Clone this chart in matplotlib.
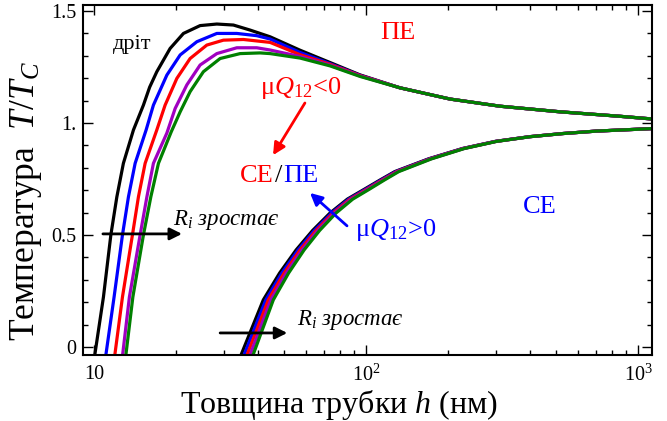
import matplotlib
matplotlib.use("Agg")
import matplotlib.pyplot as plt
from matplotlib.ticker import FixedLocator, NullFormatter, MultipleLocator, LogLocator

plt.rcParams['font.family'] = ['Liberation Serif', 'DejaVu Serif']
plt.rcParams['mathtext.fontset'] = 'custom'
plt.rcParams['mathtext.rm'] = 'Liberation Serif'
plt.rcParams['mathtext.it'] = 'Liberation Serif:italic'

colors = ['black', 'blue', 'red', '#a000c0', 'green']

# Upper branch (ПЕ -> transition), per series (h in nm, T/Tc)
pe_h = [
    [10.08, 10.82, 11.52, 12.12, 12.81, 13.95, 15.18, 16.0, 17.00, 19.03, 21.30, 24.53, 28.26, 32.52, 37.46, 44.37, 57.2, 73.76, 95.0, 133.4, 203.6, 311, 516.8, 858.6, 1126],
    [11.07, 11.84, 12.71, 13.37, 14.15, 15.53, 16.52, 18.51, 20.72, 23.86, 28.26, 33.47, 39.64, 44.37, 57.2, 73.76, 95.0, 133.4, 203.6, 311, 516.8, 858.6, 1126],
    [11.94, 12.71, 13.83, 14.55, 15.40, 17.00, 18.24, 20.14, 22.54, 25.96, 29.88, 35.39, 44.37, 57.2, 73.76, 95.0, 133.4, 203.6, 311, 516.8, 858.6, 1126],
    [12.75, 13.48, 14.76, 15.63, 16.52, 18.51, 19.86, 21.92, 24.53, 28.26, 33.47, 39.64, 44.37, 57.2, 73.76, 95.0, 133.4, 203.6, 311, 516.8, 858.6, 1126],
    [13.11, 13.88, 15.18, 16.16, 17.24, 19.20, 20.72, 22.54, 25.22, 29.06, 34.42, 40.77, 44.37, 57.2, 73.76, 95.0, 133.4, 203.6, 311, 516.8, 858.6, 1126],
]
pe_T = [
    [-0.027, 0.223, 0.5, 0.67, 0.82, 0.969, 1.08, 1.16, 1.229, 1.333, 1.40, 1.435, 1.442, 1.4375, 1.415, 1.385, 1.325, 1.27, 1.215, 1.157, 1.107, 1.075, 1.05, 1.03, 1.018],
    [-0.027, 0.223, 0.5, 0.67, 0.82, 0.969, 1.08, 1.214, 1.304, 1.363, 1.40, 1.40, 1.39, 1.375, 1.315, 1.265, 1.213, 1.157, 1.107, 1.075, 1.05, 1.03, 1.018],
    [-0.027, 0.223, 0.5, 0.67, 0.82, 0.969, 1.08, 1.199, 1.288, 1.348, 1.37, 1.373, 1.36, 1.305, 1.262, 1.212, 1.157, 1.107, 1.075, 1.05, 1.03, 1.018],
    [-0.027, 0.223, 0.5, 0.67, 0.82, 0.955, 1.065, 1.17, 1.259, 1.31, 1.336, 1.336, 1.326, 1.297, 1.258, 1.21, 1.157, 1.107, 1.075, 1.05, 1.03, 1.018],
    [-0.027, 0.223, 0.5, 0.67, 0.82, 0.96, 1.05, 1.14, 1.229, 1.288, 1.31, 1.313, 1.31, 1.29, 1.255, 1.208, 1.157, 1.107, 1.075, 1.05, 1.03, 1.018],
]

# Lower branch (СЕ), shared T/Tc, per-series h
ce_T = [-0.036, 0.21, 0.33, 0.433, 0.52, 0.598, 0.66, 0.705, 0.745, 0.783, 0.84, 0.886, 0.918, 0.939, 0.953, 0.964, 0.975]
ce_h = [
    [34.69, 41.89, 48.09, 55.30, 63.59, 73.71, 85.33, 98.79, 112.39, 127.52, 169.73, 225.98, 298.84, 399.12, 528.9, 705, 1126],
    [35.59, 42.78, 49.02, 56.24, 64.53, 74.64, 86.31, 99.84, 113.43, 128.61, 170.81, 226.95, 299.7, 399.96, 529.5, 705, 1126],
    [36.5, 43.7, 49.96, 57.2, 65.5, 75.6, 87.3, 100.9, 114.5, 129.7, 171.9, 227.9, 300.6, 400.8, 530.2, 705, 1126],
    [37.44, 44.64, 50.92, 58.18, 66.48, 76.57, 88.30, 101.97, 115.58, 130.80, 173.0, 228.86, 301.5, 401.6, 530.9, 705, 1126],
    [38.40, 45.59, 51.90, 59.17, 67.47, 77.54, 89.32, 103.06, 116.65, 131.92, 174.10, 229.84, 302.37, 402.48, 531.5, 705, 1126],
]

yticks = [0, 0.5, 1.0, 1.5]
ytick_labels = ['0', '0.5', '1.', '1.5']
xticks = [10, 100, 1000]
xtick_labels = ['10', '$10^2$', '$10^3$']

fig = plt.figure(figsize=(6.67, 4.21), dpi=100)
ax = fig.add_axes([83/667, 1-355/421, (652-83)/667, (355-5)/421])

for c, h, T in zip(colors, pe_h, pe_T):
    ax.plot(h, T, color=c, lw=2.3, solid_joinstyle='round')
for c, h in zip(colors, ce_h):
    ax.plot(h, ce_T, color=c, lw=2.3, solid_joinstyle='round')

ax.set_xscale('log')
ax.set_xlim(9.1, 1126)
ax.set_ylim(-0.036, 1.527)

ax.xaxis.set_major_locator(FixedLocator(xticks))
ax.set_xticklabels(xtick_labels)
ax.xaxis.set_minor_locator(LogLocator(base=10, subs=range(2, 10)))
ax.xaxis.set_minor_formatter(NullFormatter())
ax.set_yticks(yticks)
ax.set_yticklabels(ytick_labels)
ax.yaxis.set_minor_locator(MultipleLocator(0.1))

ax.tick_params(which='both', direction='in', top=True, right=True, labelsize=14.5, width=1.0)
ax.tick_params(which='major', length=7)
ax.tick_params(which='minor', length=3.5)
ax.tick_params(axis='x', pad=7)
ax.tick_params(axis='y', pad=5)
for s in ax.spines.values():
    s.set_linewidth(1.5)

ax.set_xlabel('Товщина трубки $h$ (нм)', fontsize=23)
ax.xaxis.set_label_coords(0.45, -0.093)
ax.set_ylabel('Температура  $T/T_C$', fontsize=25.5)
ax.yaxis.set_label_coords(-0.068, 0.44)

tr = ax.transAxes
ax.text(0.086, 0.886, 'дріт', transform=tr, fontsize=16, ha='center', va='center', color='black')
ax.text(0.554, 0.92, 'ПЕ', transform=tr, fontsize=19, ha='center', va='center', color='red')
ax.text(0.383, 0.763, 'μ$Q_{12}$<0', transform=tr, fontsize=19, ha='center', va='center', color='red')
ax.annotate('', xy=(0.334, 0.571), xytext=(0.390, 0.72), xycoords=tr, textcoords=tr,
            arrowprops=dict(arrowstyle='-|>', color='red', lw=2, mutation_scale=18, shrinkA=0, shrinkB=0))
ax.text(0.276, 0.511, 'СЕ', transform=tr, fontsize=19, ha='left', va='center', color='red')
ax.text(0.3445, 0.511, '/', transform=tr, fontsize=19, ha='center', va='center', color='black')
ax.text(0.3515, 0.511, 'ПЕ', transform=tr, fontsize=19, ha='left', va='center', color='blue')
ax.annotate('', xy=(0.399, 0.463), xytext=(0.464, 0.369), xycoords=tr, textcoords=tr,
            arrowprops=dict(arrowstyle='-|>', color='blue', lw=2, mutation_scale=18, shrinkA=0, shrinkB=0))
ax.text(0.478, 0.357, 'μ$Q_{12}$>0', transform=tr, fontsize=19, ha='left', va='center', color='blue')
ax.text(0.803, 0.423, 'СЕ', transform=tr, fontsize=19, ha='center', va='center', color='blue')

ax.text(0.158, 0.386, '$R_i$ зростає', transform=tr, fontsize=16.5, ha='left', va='center', style='italic')
ax.annotate('', xy=(0.174, 0.346), xytext=(0.035, 0.346), xycoords=tr, textcoords=tr,
            arrowprops=dict(arrowstyle='-|>', color='black', lw=2, mutation_scale=18, shrinkA=0, shrinkB=0))
ax.text(0.376, 0.10, '$R_i$ зростає', transform=tr, fontsize=16.5, ha='left', va='center', style='italic')
ax.annotate('', xy=(0.359, 0.063), xytext=(0.241, 0.063), xycoords=tr, textcoords=tr,
            arrowprops=dict(arrowstyle='-|>', color='black', lw=2, mutation_scale=18, shrinkA=0, shrinkB=0))

fig.savefig('out.png', dpi=100)
